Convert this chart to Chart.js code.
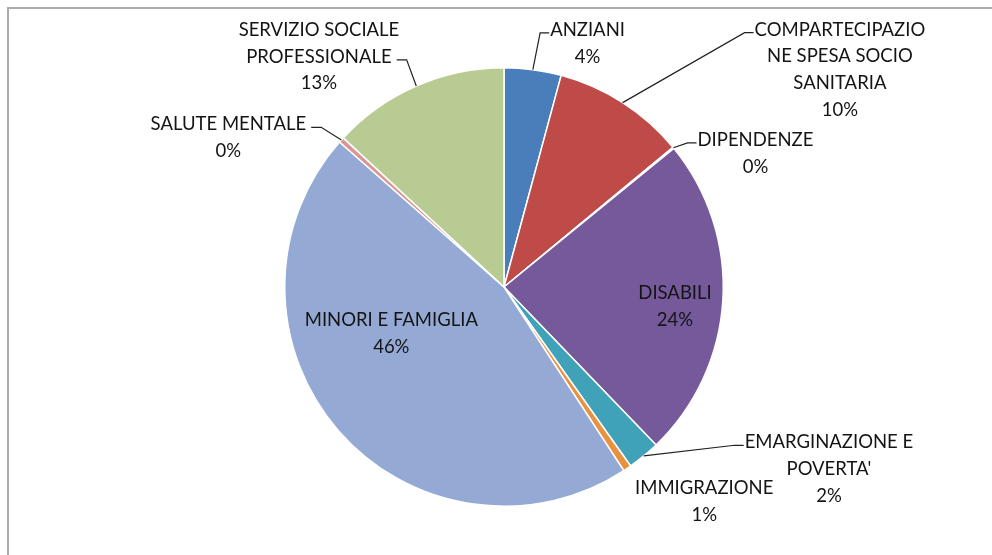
<!DOCTYPE html>
<html>
<head>
<meta charset="utf-8">
<script src="https://cdn.jsdelivr.net/npm/chart.js@4.4.0/dist/chart.umd.min.js"></script>
<style>
  html, body { margin: 0; padding: 0; background: #fff; overflow: hidden; }
  #wrap { position: relative; width: 992px; height: 555px; overflow: hidden; }
  #frame { position: absolute; left: 7px; top: 7px; width: 1100px; height: 700px; border: 2px solid #ababab; }
  canvas { position: absolute; left: 0; top: 0; }
</style>
</head>
<body>
<div id="wrap">
  <div id="frame"></div>
  <canvas id="pie" width="992" height="555"></canvas>
</div>
<script>
// Spesa per area di intervento (valori in %)
const categories = [
  'ANZIANI',
  'COMPARTECIPAZIO\nNE SPESA SOCIO\nSANITARIA',
  'DIPENDENZE',
  'DISABILI',
  'EMARGINAZIONE E\nPOVERTA\'',
  'IMMIGRAZIONE',
  'MINORI E FAMIGLIA',
  'SALUTE MENTALE',
  'SERVIZIO SOCIALE\nPROFESSIONALE'
];
const values = [4.2, 9.8, 0.1, 23.7, 2.4, 0.6, 45.7, 0.4, 13.1];
const sliceColors = [
  '#4a7ebb', '#be4b48', '#8a6bb0', '#76599a', '#3fa2b8',
  '#e8913f', '#94aad4', '#d99694', '#b7cb92'
];

// posizione delle etichette: centro del blocco di testo, in raggi dal centro della torta
const labelPos = [
  [0.381, -1.112], [1.532, -0.991], [1.147, -0.610], [0.780, 0.089],
  [1.482, 0.830], [0.913, 0.977], [-0.514, 0.213], [-1.257, -0.681], [-0.844, -1.050]
];
// linee guida: lato del testo a cui si aggancia e riga di riferimento
const leaders = [
  { side: 'left', line: 0 }, { side: 'left', line: 0 }, { side: 'left', line: 0 }, null,
  { side: 'left', line: 0 }, null, null, { side: 'right', line: 0 }, { side: 'right', line: 1 }
];

const LINE_H = 26.7;
const FONT = '18.5px Lato';

const total = values.reduce((a, b) => a + b, 0);

const pieLabels = {
  id: 'pieLabels',
  afterDatasetsDraw(chart) {
    const ctx = chart.ctx;
    const arcs = chart.getDatasetMeta(0).data;
    ctx.save();
    ctx.font = FONT;
    ctx.fillStyle = '#141414';
    ctx.textAlign = 'center';
    ctx.textBaseline = 'middle';
    arcs.forEach((arc, i) => {
      const R = arc.outerRadius;
      const lines = categories[i].split('\n');
      lines.push(Math.round(values[i] / total * 100) + '%');
      const cx = arc.x + labelPos[i][0] * R;
      const cy = arc.y + labelPos[i][1] * R;
      const top = cy - (lines.length - 1) * LINE_H / 2;
      lines.forEach((t, k) => ctx.fillText(t, cx, top + k * LINE_H));

      const ld = leaders[i];
      if (!ld) return;
      const mid = (arc.startAngle + arc.endAngle) / 2;
      const px = arc.x + Math.cos(mid) * R;
      const py = arc.y + Math.sin(mid) * R;
      const w = ctx.measureText(lines[ld.line]).width;
      const ly = top + ld.line * LINE_H + 3;
      let ex, bx;
      if (ld.side === 'left') {
        ex = cx - w / 2 - 1;
        bx = ex - 9;
      } else {
        ex = cx + w / 2 + 5;
        bx = ex + 10;
      }
      ctx.beginPath();
      ctx.moveTo(px, py);
      ctx.lineTo(bx, ly);
      ctx.lineTo(ex, ly);
      ctx.strokeStyle = '#222';
      ctx.lineWidth = 1.2;
      ctx.stroke();
    });
    ctx.restore();
  }
};

new Chart(document.getElementById('pie'), {
  type: 'pie',
  data: {
    labels: categories,
    datasets: [{
      data: values,
      backgroundColor: sliceColors,
      borderColor: '#ffffff',
      borderWidth: 1.5
    }]
  },
  options: {
    responsive: false,
    animation: false,
    layout: { padding: { left: 284, right: 268, top: 67, bottom: 48 } },
    plugins: {
      legend: { display: false },
      tooltip: { enabled: false }
    }
  },
  plugins: [pieLabels]
});
</script>
</body>
</html>
